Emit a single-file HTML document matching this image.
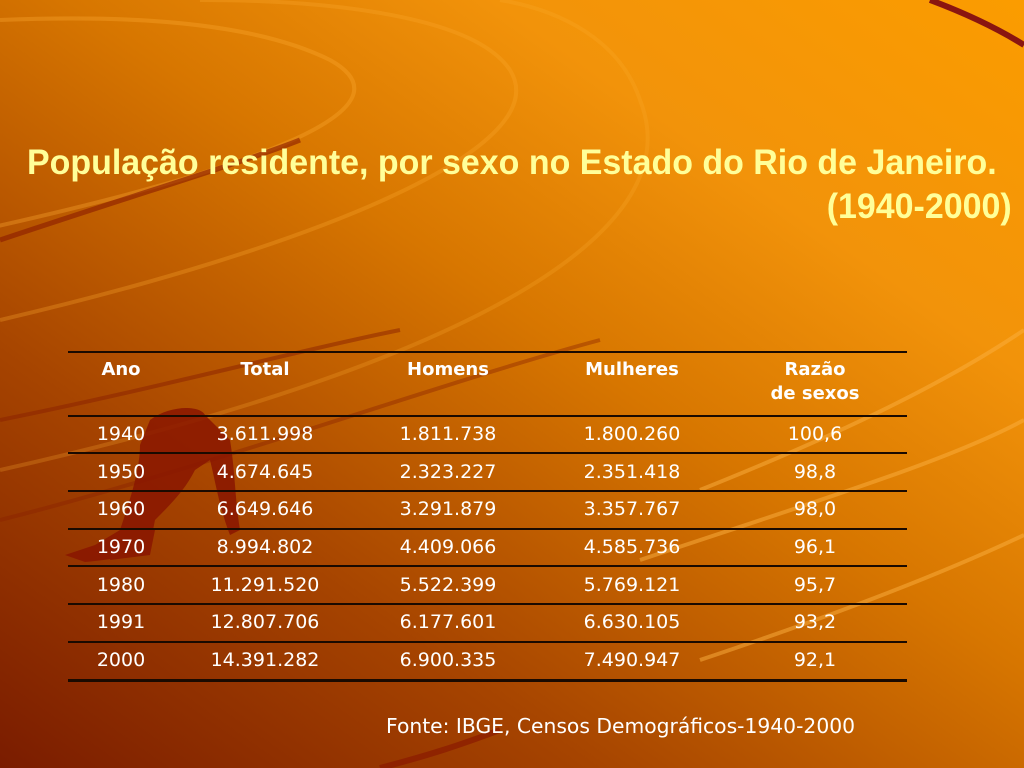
<!DOCTYPE html>
<html><head><meta charset="utf-8"><style>
html,body{margin:0;padding:0}
body{width:1024px;height:768px;position:relative;overflow:hidden;
background:linear-gradient(35deg,#7a1c00 0%,#a64400 28%,#d77600 55%,#f2930a 75%,#fb9c00 100%);
font-family:"DejaVu Sans","Liberation Sans",sans-serif;color:#fff}
svg{position:absolute;left:0;top:0}
.t{position:absolute;font-family:"Liberation Sans",sans-serif;font-weight:bold;color:#ffff99;font-size:35px;line-height:42px;white-space:nowrap;transform:scaleX(0.97)}
.c{position:absolute;width:180px;text-align:center;font-size:19px;line-height:24px}
.h{font-weight:bold;font-size:18px}
.l{position:absolute;left:68px;width:839px;height:2px;background:#1a0a00}
</style></head><body>
<svg width="1024" height="768">
<g fill="none">
<path d="M-20,230 C250,170 420,110 330,60 C250,20 120,15 0,20" stroke="#fbaa30" stroke-width="4" opacity="0.35"/>
<path d="M0,320 C300,250 560,150 510,70 C470,10 300,0 200,0" stroke="#fbaa30" stroke-width="4" opacity="0.3"/>
<path d="M0,470 C400,380 700,250 640,100 C620,40 560,10 500,0" stroke="#fbaa30" stroke-width="4" opacity="0.25"/>
<path d="M0,240 C150,190 250,160 300,140" stroke="#8a1a00" stroke-width="5" opacity="0.6"/>
<path d="M0,420 C150,390 300,350 400,330" stroke="#8a2000" stroke-width="4" opacity="0.5"/>
<path d="M0,520 C200,470 450,380 600,340" stroke="#8a2000" stroke-width="4" opacity="0.4"/>
<path d="M930,0 C970,15 1000,30 1024,45" stroke="#8a1510" stroke-width="6"/>
<path d="M700,490 C850,430 950,380 1024,330" stroke="#fbb040" stroke-width="4" opacity="0.5"/>
<path d="M640,560 C820,500 950,460 1024,420" stroke="#fbb040" stroke-width="4" opacity="0.5"/>
<path d="M700,660 C850,610 950,570 1024,535" stroke="#fbb040" stroke-width="4" opacity="0.5"/>
<path d="M380,768 C430,755 460,745 500,730" stroke="#8a1a00" stroke-width="6" opacity="0.7"/>
</g>
<g fill="#8a1600" opacity="0.85">
<path d="M150,420 C170,405 200,405 205,415 L230,440 C235,470 235,500 240,530 L230,535 C220,510 215,480 210,460 L195,470 C185,490 170,505 155,520 L150,545 C140,555 110,560 85,562 L65,555 L95,545 L120,530 C130,500 140,470 140,445 Z"/>
<path d="M120,530 L155,530 L150,555 L110,560 Z"/>
</g>
</svg>
<div class="t" style="left:27px;top:142px;transform-origin:0 0">População residente, por sexo no Estado do Rio de Janeiro.</div>
<div class="t" style="right:12px;top:186px;transform-origin:100% 0">(1940-2000)</div>

<div class="l" style="top:351px"></div>
<div class="l" style="top:415px"></div>
<div class="l" style="top:452px"></div>
<div class="l" style="top:490px"></div>
<div class="l" style="top:528px"></div>
<div class="l" style="top:565px"></div>
<div class="l" style="top:603px"></div>
<div class="l" style="top:641px"></div>
<div class="l" style="top:679px;height:3px"></div>

<div class="c h" style="left:31px;top:358px">Ano</div>
<div class="c h" style="left:175px;top:358px">Total</div>
<div class="c h" style="left:358px;top:358px">Homens</div>
<div class="c h" style="left:542px;top:358px">Mulheres</div>
<div class="c h" style="left:725px;top:358px">Razão<br>de sexos</div>

<div class="c" style="left:31px;top:422px">1940</div><div class="c" style="left:175px;top:422px">3.611.998</div><div class="c" style="left:358px;top:422px">1.811.738</div><div class="c" style="left:542px;top:422px">1.800.260</div><div class="c" style="left:725px;top:422px">100,6</div>
<div class="c" style="left:31px;top:460px">1950</div><div class="c" style="left:175px;top:460px">4.674.645</div><div class="c" style="left:358px;top:460px">2.323.227</div><div class="c" style="left:542px;top:460px">2.351.418</div><div class="c" style="left:725px;top:460px">98,8</div>
<div class="c" style="left:31px;top:497px">1960</div><div class="c" style="left:175px;top:497px">6.649.646</div><div class="c" style="left:358px;top:497px">3.291.879</div><div class="c" style="left:542px;top:497px">3.357.767</div><div class="c" style="left:725px;top:497px">98,0</div>
<div class="c" style="left:31px;top:535px">1970</div><div class="c" style="left:175px;top:535px">8.994.802</div><div class="c" style="left:358px;top:535px">4.409.066</div><div class="c" style="left:542px;top:535px">4.585.736</div><div class="c" style="left:725px;top:535px">96,1</div>
<div class="c" style="left:31px;top:573px">1980</div><div class="c" style="left:175px;top:573px">11.291.520</div><div class="c" style="left:358px;top:573px">5.522.399</div><div class="c" style="left:542px;top:573px">5.769.121</div><div class="c" style="left:725px;top:573px">95,7</div>
<div class="c" style="left:31px;top:610px">1991</div><div class="c" style="left:175px;top:610px">12.807.706</div><div class="c" style="left:358px;top:610px">6.177.601</div><div class="c" style="left:542px;top:610px">6.630.105</div><div class="c" style="left:725px;top:610px">93,2</div>
<div class="c" style="left:31px;top:648px">2000</div><div class="c" style="left:175px;top:648px">14.391.282</div><div class="c" style="left:358px;top:648px">6.900.335</div><div class="c" style="left:542px;top:648px">7.490.947</div><div class="c" style="left:725px;top:648px">92,1</div>

<div style="position:absolute;left:386px;top:714px;font-size:20.3px;line-height:24px;white-space:nowrap">Fonte: IBGE, Censos Demográficos-1940-2000</div>
</body></html>
